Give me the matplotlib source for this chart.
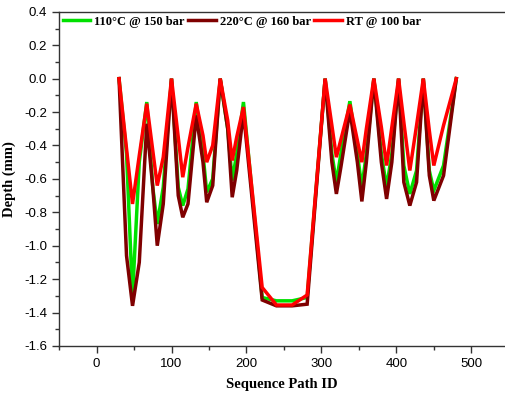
import matplotlib
matplotlib.use('Agg')
import matplotlib.pyplot as plt
from matplotlib.ticker import MultipleLocator

# sequence path IDs shared by the three runs
path_id = [30, 40, 48, 57, 67, 75, 81, 89, 100, 109, 115, 122, 133, 142, 147, 155,
           165, 175, 181, 187, 196, 221, 240, 261, 281, 305, 314, 320, 326, 338,
           348, 354, 360, 370, 380, 387, 394, 403, 410, 418, 427, 436, 444, 450,
           463, 480]

depth_110 = [0, -0.45, -1.30, -0.50, -0.14, -0.65, -0.87, -0.65, 0, -0.65, -0.76, -0.66,
             -0.14, -0.45, -0.68, -0.60, 0, -0.30, -0.61, -0.45, -0.14, -1.31, -1.33,
             -1.33, -1.31, 0, -0.45, -0.62, -0.45, -0.135, -0.45, -0.65, -0.45, 0,
             -0.45, -0.65, -0.45, 0, -0.52, -0.69, -0.55, 0, -0.55, -0.67, -0.52, 0]

depth_220 = [0, -1.06, -1.36, -1.10, -0.27, -0.65, -1.00, -0.75, 0, -0.70, -0.83, -0.75,
             -0.22, -0.50, -0.74, -0.64, 0, -0.30, -0.71, -0.55, -0.20, -1.325, -1.36,
             -1.36, -1.35, 0, -0.50, -0.69, -0.53, -0.19, -0.50, -0.735, -0.50, 0,
             -0.50, -0.72, -0.50, 0, -0.62, -0.76, -0.62, 0, -0.58, -0.73, -0.58, 0]

depth_rt = [0, -0.42, -0.75, -0.46, -0.15, -0.43, -0.64, -0.47, 0, -0.35, -0.59, -0.41,
            -0.15, -0.34, -0.50, -0.40, 0, -0.25, -0.49, -0.35, -0.17, -1.25, -1.355,
            -1.355, -1.295, 0, -0.28, -0.47, -0.365, -0.155, -0.37, -0.50, -0.30, 0,
            -0.29, -0.52, -0.29, 0, -0.26, -0.55, -0.28, 0, -0.31, -0.52, -0.28, 0]

labels = ['110°C @ 150 bar', '220°C @ 160 bar', 'RT @ 100 bar']
colors = ['#00E000', '#7F0000', '#FF0000']

plt.rcParams['font.family'] = ['Liberation Sans', 'DejaVu Sans']

fig = plt.figure(figsize=(5.05, 3.94), dpi=100)
ax = fig.add_axes([0.117, 0.122, 0.883, 0.848])

for y, lab, c in zip([depth_110, depth_220, depth_rt], labels, colors):
    ax.plot(path_id, y, color=c, lw=2.5, label=lab, solid_joinstyle='miter')

ax.set_xlim(-50, 545)
ax.set_ylim(-1.6, 0.4)
ax.xaxis.set_major_locator(MultipleLocator(100))
ax.xaxis.set_minor_locator(MultipleLocator(50))
ax.yaxis.set_major_locator(MultipleLocator(0.2))
ax.yaxis.set_minor_locator(MultipleLocator(0.1))
ax.yaxis.set_major_formatter(matplotlib.ticker.FormatStrFormatter('%.1f'))

ax.spines['right'].set_visible(False)
for s in ['left', 'bottom', 'top']:
    ax.spines[s].set_color('#333333')
    ax.spines[s].set_linewidth(1.0)
ax.tick_params(which='major', direction='out', length=5, width=1, labelsize=9.5, colors='#333333')
ax.tick_params(which='minor', direction='out', length=3, width=1, colors='#333333')
ax.tick_params(top=False, right=False, which='both')
for t in ax.get_xticklabels() + ax.get_yticklabels():
    t.set_color('black')

serif = ['Liberation Serif', 'DejaVu Serif']
ax.set_xlabel('Sequence Path ID', family=serif, fontweight='bold', fontsize=10.5, labelpad=6)
ax.set_ylabel('Depth (mm)', family=serif, fontweight='bold', fontsize=10.5, labelpad=6)

leg = ax.legend(loc='upper left', ncol=3, frameon=False, handlelength=2.2, handletextpad=0.3,
                columnspacing=0.3, borderaxespad=0.0, borderpad=0.3, bbox_to_anchor=(0.0, 1.0),
                prop={'family': serif, 'weight': 'bold', 'size': 9})

fig.savefig('out.png', dpi=100)
